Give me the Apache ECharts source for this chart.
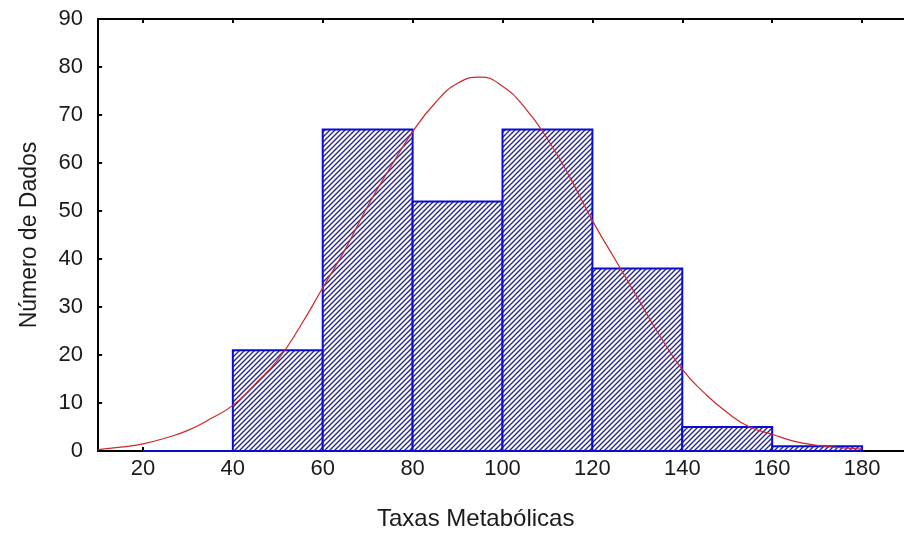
<!DOCTYPE html>
<html>
<head>
<meta charset="utf-8">
<script src="https://cdn.jsdelivr.net/npm/echarts@6/dist/echarts.min.js"></script>
<style>
  html, body { margin: 0; padding: 0; background: #fff; }
  #chart { width: 904px; height: 538px; }
</style>
</head>
<body>
<div id="chart"></div>
<script>
// histogram bins (class start, class end) and counts
var binStart = [20, 40, 60, 80, 100, 120, 140, 160];
var binEnd = [40, 60, 80, 100, 120, 140, 160, 180];
var counts = [0, 21, 67, 52, 67, 38, 5, 1];

// fitted normal curve
var curveX = [10, 15, 20, 25, 30, 35, 40, 45, 50, 55, 60, 65, 70, 75, 80, 85, 90, 95,
    100, 105, 110, 115, 120, 125, 130, 135, 140, 145, 150, 155, 160, 165, 170, 175, 180];
var curveY = [0.3, 0.8, 1.5, 2.7, 4.3, 6.7, 9.5, 14, 19, 26, 34, 42, 51, 59, 66.5, 72.5, 76.6, 77.9,
    76, 71.5, 65, 57, 48, 40, 32, 24, 17, 12, 8, 5, 3.5, 2, 1.2, 0.7, 0.4];

var xTicks = [20, 40, 60, 80, 100, 120, 140, 160, 180];

var FONT = 'Liberation Sans';

// diagonal hatch fill
function makeHatch() {
    var s = 5;
    var c = document.createElement('canvas');
    c.width = s;
    c.height = s;
    var ctx = c.getContext('2d');
    ctx.fillStyle = '#ffffff';
    ctx.fillRect(0, 0, s, s);
    ctx.strokeStyle = '#24248c';
    ctx.lineWidth = 1.35;
    ctx.beginPath();
    ctx.moveTo(-1, s + 1); ctx.lineTo(s + 1, -1);
    ctx.moveTo(-1, 1); ctx.lineTo(1, -1);
    ctx.moveTo(s - 1, s + 1); ctx.lineTo(s + 1, s - 1);
    ctx.stroke();
    return c;
}
var hatch = makeHatch();

var barData = [];
for (var i = 0; i < counts.length; i++) {
    barData.push([binStart[i], binEnd[i], counts[i]]);
}
var curveData = [];
for (var j = 0; j < curveX.length; j++) {
    curveData.push([curveX[j], curveY[j]]);
}

var chart = echarts.init(document.getElementById('chart'), null, { renderer: 'canvas' });

var axisLine = { show: true, lineStyle: { color: '#000', width: 2 } };

chart.setOption({
    backgroundColor: '#fff',
    animation: false,
    grid: { left: 98, right: -3, top: 19, bottom: 87, containLabel: false, outerBoundsMode: 'none' },
    xAxis: [{
        type: 'value',
        min: 10,
        max: 190,
        position: 'bottom',
        axisLine: axisLine,
        splitLine: { show: false },
        axisTick: { show: true, inside: true, length: 4, customValues: xTicks, lineStyle: { color: '#000', width: 2 } },
        axisLabel: { customValues: xTicks, color: '#1a1a1a', fontFamily: FONT, fontSize: 22, margin: 7 }
    }, {
        type: 'value',
        min: 10,
        max: 190,
        position: 'top',
        axisLine: axisLine,
        splitLine: { show: false },
        axisTick: { show: true, inside: true, length: 4, customValues: xTicks, lineStyle: { color: '#000', width: 2 } },
        axisLabel: { show: false }
    }],
    yAxis: {
        type: 'value',
        min: 0,
        max: 90,
        interval: 10,
        name: 'Número de Dados',
        nameLocation: 'middle',
        nameGap: 57,
        nameTextStyle: { color: '#1a1a1a', fontFamily: FONT, fontSize: 23 },
        axisLine: axisLine,
        splitLine: { show: false },
        axisTick: { show: true, inside: true, length: 4, lineStyle: { color: '#000', width: 2 } },
        axisLabel: { color: '#1a1a1a', fontFamily: FONT, fontSize: 22, margin: 15 }
    },
    graphic: [{
        type: 'text',
        left: 377,
        top: 507,
        style: { text: 'Taxas Metabólicas', fill: '#1a1a1a', font: '24px "Liberation Sans"' }
    }],
    series: [{
        type: 'custom',
        xAxisIndex: 0,
        data: barData,
        renderItem: function (params, api) {
            var p0 = api.coord([api.value(0), api.value(2)]);
            var p1 = api.coord([api.value(1), 0]);
            return {
                type: 'rect',
                shape: { x: p0[0], y: p0[1], width: p1[0] - p0[0], height: p1[1] - p0[1] },
                style: {
                    fill: { image: hatch, repeat: 'repeat' },
                    stroke: '#0a0ad8',
                    lineWidth: 2
                }
            };
        },
        z: 2
    }, {
        type: 'line',
        xAxisIndex: 0,
        data: curveData,
        smooth: 0.5,
        showSymbol: false,
        lineStyle: { color: '#d02828', width: 1.2 },
        z: 3
    }]
});
</script>
</body>
</html>
